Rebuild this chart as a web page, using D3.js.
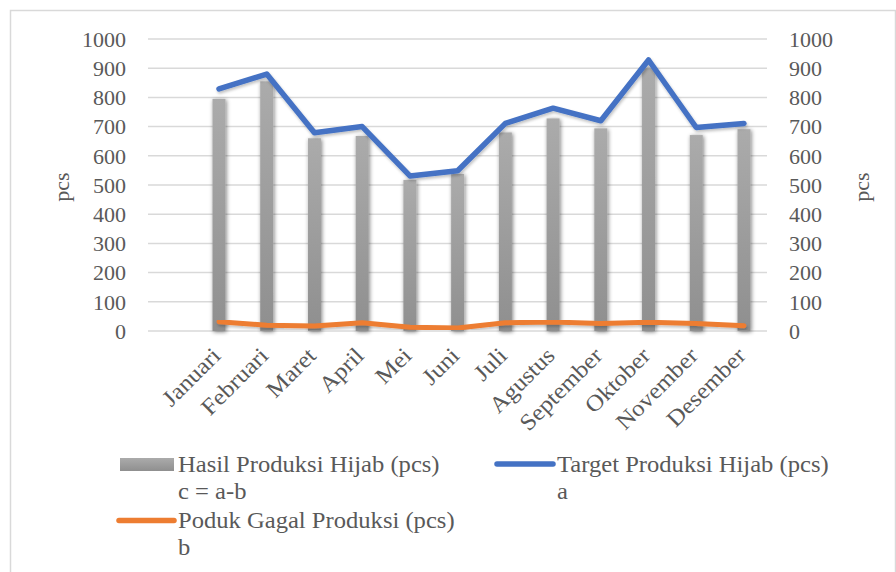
<!DOCTYPE html>
<html>
<head>
<meta charset="utf-8">
<script src="https://cdn.jsdelivr.net/npm/d3@7"></script>
<style>
  body { margin: 0; background: #fff; }
  text { font-family: "Liberation Serif", "Times New Roman", serif; fill: #595959; }
</style>
</head>
<body>
<div id="wrapper"></div>
<script>
// data
const months = ["Januari", "Februari", "Maret", "April", "Mei", "Juni", "Juli",
  "Agustus", "September", "Oktober", "November", "Desember"]
const hasil = [795, 855, 660, 668, 517, 538, 680, 728, 694, 900, 671, 691]
const target = [829, 880, 679, 700, 531, 549, 711, 763, 720, 928, 697, 711]
const gagal = [32, 20, 17, 28, 13, 10, 28, 31, 26, 30, 26, 18]
const yTicks = [0, 100, 200, 300, 400, 500, 600, 700, 800, 900, 1000]

const width = 896
const height = 572

const svg = d3.select("#wrapper")
  .append("svg")
    .attr("width", width)
    .attr("height", height)

const defs = svg.append("defs")
const grad = defs.append("linearGradient")
  .attr("id", "barGrad")
  .attr("x1", 0).attr("y1", 0).attr("x2", 0).attr("y2", 1)
grad.append("stop").attr("offset", "0%").attr("stop-color", "#ababab")
grad.append("stop").attr("offset", "100%").attr("stop-color", "#8f8f8f")

const shadow = defs.append("filter")
  .attr("id", "shadow")
  .attr("x", "-50%").attr("y", "-10%").attr("width", "200%").attr("height", "120%")
shadow.append("feGaussianBlur")
  .attr("in", "SourceAlpha").attr("stdDeviation", 2)
shadow.append("feOffset").attr("dx", 1).attr("dy", 1).attr("result", "blur")
shadow.append("feComponentTransfer").append("feFuncA")
  .attr("type", "linear").attr("slope", 0.5)
const merge = shadow.append("feMerge")
merge.append("feMergeNode")
merge.append("feMergeNode").attr("in", "SourceGraphic")

const lineShadow = defs.append("filter")
  .attr("id", "lineShadow")
  .attr("x", "-5%").attr("y", "-20%").attr("width", "110%").attr("height", "140%")
lineShadow.append("feGaussianBlur").attr("in", "SourceAlpha").attr("stdDeviation", 1.5)
lineShadow.append("feOffset").attr("dx", 1).attr("dy", 2)
lineShadow.append("feComponentTransfer").append("feFuncA")
  .attr("type", "linear").attr("slope", 0.25)
const merge2 = lineShadow.append("feMerge")
merge2.append("feMergeNode")
merge2.append("feMergeNode").attr("in", "SourceGraphic")

// outer frame
svg.append("rect")
  .attr("x", 10.5).attr("y", 10.5)
  .attr("width", width - 11).attr("height", height)
  .attr("fill", "none")
  .attr("stroke", "#d9d9d9")
  .attr("stroke-width", 1.5)

// scales
const gridLeft = 148
const gridRight = 767
const xScale = d3.scalePoint()
  .domain(months)
  .range([219, 744])

const yScale = d3.scaleLinear()
  .domain([0, 1000])
  .range([331, 39])

// gridlines
svg.append("g").selectAll("line")
  .data(yTicks)
  .enter().append("line")
    .attr("x1", gridLeft)
    .attr("x2", gridRight)
    .attr("y1", d => yScale(d))
    .attr("y2", d => yScale(d))
    .attr("stroke", "#d9d9d9")
    .attr("stroke-width", 1.5)

// left axis labels
svg.append("g").selectAll("text")
  .data(yTicks)
  .enter().append("text")
    .attr("x", 126)
    .attr("y", d => yScale(d))
    .attr("dy", "0.35em")
    .attr("text-anchor", "end")
    .attr("font-size", 22)
    .text(d => d)

// right axis labels
svg.append("g").selectAll("text")
  .data(yTicks)
  .enter().append("text")
    .attr("x", 789)
    .attr("y", d => yScale(d))
    .attr("dy", "0.35em")
    .attr("text-anchor", "start")
    .attr("font-size", 22)
    .text(d => d)

// axis titles
svg.append("text")
  .attr("transform", "translate(69,187) rotate(-90)")
  .attr("text-anchor", "middle")
  .attr("font-size", 22)
  .text("pcs")
svg.append("text")
  .attr("transform", "translate(869,187) rotate(-90)")
  .attr("text-anchor", "middle")
  .attr("font-size", 22)
  .text("pcs")

// bars
const barWidth = 13
svg.append("g").selectAll("rect")
  .data(hasil)
  .enter().append("rect")
    .attr("x", (d, i) => xScale(months[i]) - barWidth / 2)
    .attr("y", d => yScale(d))
    .attr("width", barWidth)
    .attr("height", d => yScale(0) - yScale(d))
    .attr("fill", "url(#barGrad)")
    .attr("filter", "url(#shadow)")

// lines
const line = d3.line()
  .x((d, i) => xScale(months[i]))
  .y(d => yScale(d))

svg.append("path")
  .datum(target)
  .attr("d", line)
  .attr("fill", "none")
  .attr("stroke", "#4472c4")
  .attr("stroke-width", 5.5)
  .attr("stroke-linecap", "round")
  .attr("stroke-linejoin", "round")
  .attr("filter", "url(#lineShadow)")

svg.append("path")
  .datum(gagal)
  .attr("d", line)
  .attr("fill", "none")
  .attr("stroke", "#ed7d31")
  .attr("stroke-width", 5)
  .attr("stroke-linecap", "round")
  .attr("stroke-linejoin", "round")
  .attr("filter", "url(#lineShadow)")

// month labels
svg.append("g").selectAll("text")
  .data(months)
  .enter().append("text")
    .attr("transform", d => `translate(${xScale(d) + 3},${357}) rotate(-45) scale(1.08,1)`)
    .attr("text-anchor", "end")
    .attr("font-size", 23)
    .text(d => d)

// legend
const legend = svg.append("g")
const legendText = (x, y, label) => legend.append("text")
  .attr("transform", `translate(${x},${y}) scale(1.07,1)`)
  .attr("font-size", 23)
  .text(label)

legend.append("rect")
  .attr("x", 120).attr("y", 458)
  .attr("width", 54).attr("height", 13)
  .attr("fill", "url(#barGrad)")
legendText(178, 472, "Hasil Produksi Hijab (pcs)")
legendText(178, 499, "c = a-b")

legend.append("line")
  .attr("x1", 497).attr("x2", 553).attr("y1", 464).attr("y2", 464)
  .attr("stroke", "#4472c4").attr("stroke-width", 5.5).attr("stroke-linecap", "round")
legendText(557, 472, "Target Produksi Hijab (pcs)")
legendText(557, 499, "a")

legend.append("line")
  .attr("x1", 119).attr("x2", 174).attr("y1", 520.5).attr("y2", 520.5)
  .attr("stroke", "#ed7d31").attr("stroke-width", 5.5).attr("stroke-linecap", "round")
legendText(178, 528, "Poduk Gagal Produksi (pcs)")
legendText(178, 555, "b")
</script>
</body>
</html>
